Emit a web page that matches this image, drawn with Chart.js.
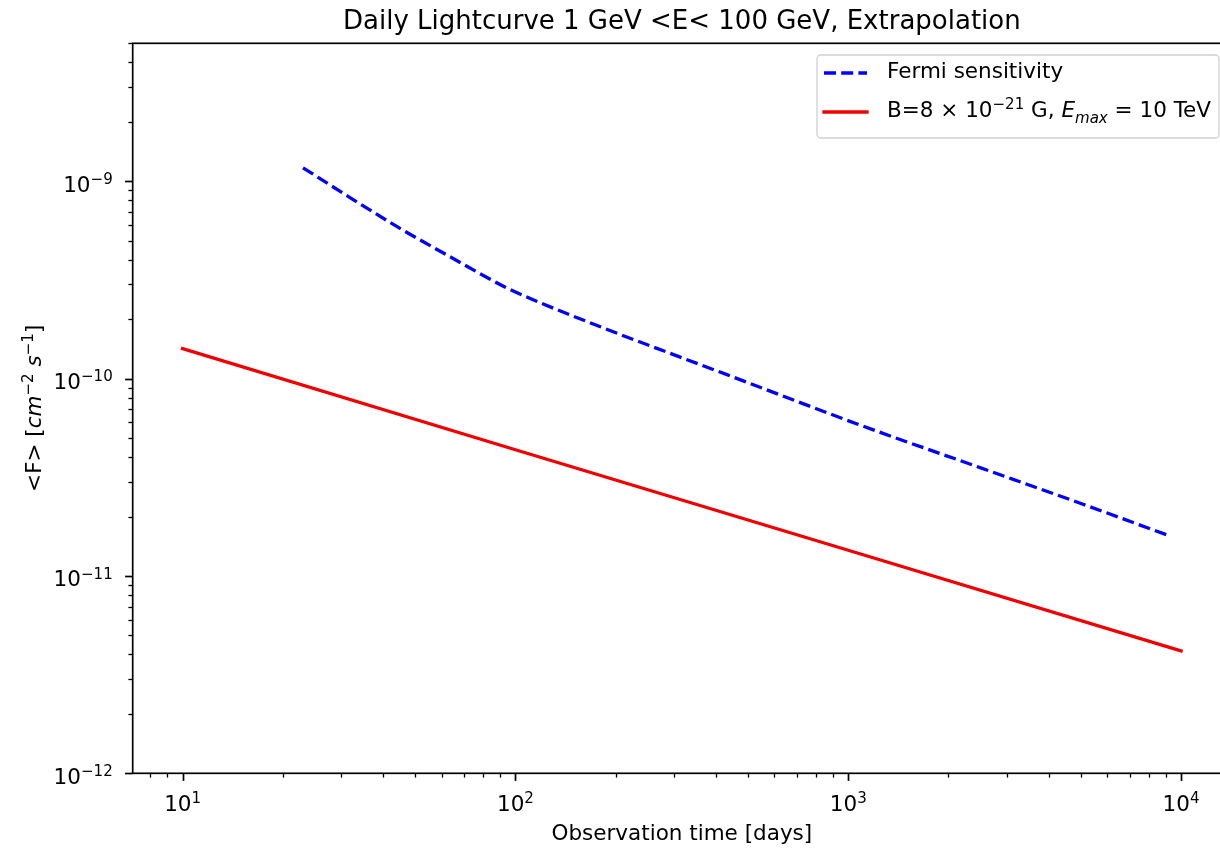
<!DOCTYPE html>
<html><head><meta charset="utf-8">
<script src="https://cdn.jsdelivr.net/npm/chart.js@4/dist/chart.umd.min.js"></script>
<style>
html,body{margin:0;padding:0;background:#fff;overflow:hidden}
#wrap{width:1220px;height:850px;overflow:hidden;position:relative;background:#fff}
canvas{display:block}
</style></head><body>
<div id="wrap"><canvas id="c" width="1245" height="850"></canvas></div>
<script>
// ---- data ----
const titleText = 'Daily Lightcurve 1 GeV <E< 100 GeV, Extrapolation';
const xAxisLabel = 'Observation time [days]';
const fermiDays = [23, 32, 45, 64, 92, 113, 180, 430, 1090, 2500, 5000, 9100];
const fermiFlux = [1.17e-9, 8.22e-10, 5.77e-10, 4.12e-10, 2.94e-10, 2.51e-10, 1.83e-10, 1.05e-10, 5.8e-11, 3.53e-11, 2.33e-11, 1.61e-11];
const modelDays = [10, 100, 1000, 10000];
const modelFlux = [1.42e-10, 4.36e-11, 1.35e-11, 4.17e-12];
const xTicks = [10, 100, 1000, 10000];
const xTickExps = ['1', '2', '3', '4'];
const yTicks = [1e-12, 1e-11, 1e-10, 1e-9];
const yTickExps = ['−12', '−11', '−10', '−9'];
const tickBase = '10';
const xRange = [7.08, 14125];
const yRange = [1e-12, 5e-9];
const legendFermi = [{t: 'Fermi sensitivity'}];
const legendModel = [{t: 'B=8 × 10'}, {t: '−21', sup: true}, {t: ' G, '}, {t: 'E', it: true}, {t: 'max', it: true, sub: true}, {t: ' = 10 TeV'}];
const yAxisLabel = [{t: '<F> ['}, {t: 'cm', it: true}, {t: '−2', sup: true}, {t: ' '}, {t: 's', it: true}, {t: '−1', sup: true}, {t: ']'}];

const FAM = '"DejaVu Sans", sans-serif';
const BASE = 21.5;

function segFont(s, base) {
  const size = (s.sup || s.sub) ? base * 0.7 : base;
  return (s.it ? 'italic ' : '') + size + 'px ' + FAM;
}
function segsWidth(ctx, segs, base) {
  let w = 0;
  for (const s of segs) { ctx.font = segFont(s, base); w += ctx.measureText(s.t).width; }
  return w;
}
function drawSegs(ctx, segs, x, y, base) {
  let cx = x;
  ctx.textBaseline = 'alphabetic';
  ctx.textAlign = 'left';
  for (const s of segs) {
    ctx.font = segFont(s, base);
    let dy = 0;
    if (s.sup) dy = -0.355 * base;
    if (s.sub) dy = 0.3 * base;
    ctx.fillText(s.t, cx, y + dy);
    cx += ctx.measureText(s.t).width;
  }
}

const decor = {
  id: 'decor',
  afterDraw(chart) {
    const ctx = chart.ctx, ca = chart.chartArea;
    const xs = chart.scales.x, ys = chart.scales.y;
    ctx.save();
    ctx.strokeStyle = '#000';
    // tick marks
    function tickMarks(isX) {
      const sc = isX ? xs : ys;
      const lo = isX ? xRange[0] : yRange[0], hi = isX ? xRange[1] : yRange[1];
      const d0 = Math.floor(Math.log10(lo)), d1 = Math.ceil(Math.log10(hi));
      for (let d = d0; d <= d1; d++) {
        for (let k = 1; k <= 9; k++) {
          const v = k * Math.pow(10, d);
          if (v < lo * 0.9999 || v > hi * 1.0001) continue;
          const major = k === 1;
          const len = major ? 7.6 : 4.3;
          ctx.lineWidth = major ? 1.7 : 1.3;
          const p = Math.round(sc.getPixelForValue(v)) + 0.5;
          ctx.beginPath();
          if (isX) { ctx.moveTo(p, ca.bottom); ctx.lineTo(p, ca.bottom + len); }
          else { ctx.moveTo(ca.left, p); ctx.lineTo(ca.left - len, p); }
          ctx.stroke();
        }
      }
    }
    tickMarks(true); tickMarks(false);
    // tick labels
    ctx.fillStyle = '#000';
    xTicks.forEach((v, i) => {
      const segs = [{t: tickBase}, {t: xTickExps[i], sup: true}];
      const w = segsWidth(ctx, segs, BASE);
      drawSegs(ctx, segs, xs.getPixelForValue(v) - w / 2, ca.bottom + 37.7, BASE);
    });
    yTicks.forEach((v, i) => {
      const segs = [{t: tickBase}, {t: yTickExps[i], sup: true}];
      const w = segsWidth(ctx, segs, BASE);
      drawSegs(ctx, segs, ca.left - 20 - w, ys.getPixelForValue(v) + 10.3, BASE);
    });
    // frame
    ctx.lineWidth = 1.7;
    ctx.strokeRect(ca.left, ca.top, ca.right - ca.left, ca.bottom - ca.top);
    // y axis label
    const yw = segsWidth(ctx, yAxisLabel, BASE);
    ctx.save();
    ctx.translate(41, (ca.top + ca.bottom) / 2);
    ctx.rotate(-Math.PI / 2);
    drawSegs(ctx, yAxisLabel, -yw / 2, 0, BASE);
    ctx.restore();
    // legend
    const lx0 = ca.right - 414, ly0 = 55, lw = 402, lh = 83;
    ctx.beginPath();
    ctx.roundRect(lx0, ly0, lw, lh, 4);
    ctx.fillStyle = 'rgba(255,255,255,0.8)';
    ctx.fill();
    ctx.lineWidth = 1.3;
    ctx.strokeStyle = '#d0d0d0';
    ctx.stroke();
    const ds = chart.data.datasets;
    [[ds[0], 73], [ds[1], 112]].forEach(([d, y]) => {
      ctx.beginPath();
      ctx.strokeStyle = d.borderColor;
      ctx.lineWidth = d.borderWidth;
      ctx.setLineDash(d.borderDash || []);
      ctx.lineCap = d.borderDash ? 'butt' : 'square';
      ctx.moveTo(lx0 + 7, y); ctx.lineTo(lx0 + 50, y);
      ctx.stroke();
    });
    ctx.setLineDash([]);
    ctx.fillStyle = '#000';
    drawSegs(ctx, legendFermi, lx0 + 70, 78, BASE);
    drawSegs(ctx, legendModel, lx0 + 70, 116.5, BASE);
    ctx.restore();
  }
};

new Chart(document.getElementById('c'), {
  type: 'line',
  data: {
    datasets: [
      {
        label: 'Fermi sensitivity',
        data: fermiDays.map((x, i) => ({x, y: fermiFlux[i]})),
        borderColor: '#0000ff', borderWidth: 3.3, borderDash: [12, 5.2], borderCapStyle: 'butt',
        pointRadius: 0, fill: false, cubicInterpolationMode: 'monotone'
      },
      {
        label: 'B=8 × 10⁻²¹ G, E_max = 10 TeV',
        data: modelDays.map((x, i) => ({x, y: modelFlux[i]})),
        borderColor: '#f00000', borderWidth: 3.3, borderCapStyle: 'square',
        pointRadius: 0, fill: false, tension: 0
      }
    ]
  },
  options: {
    responsive: false, animation: false, devicePixelRatio: 1,
    layout: {padding: {left: 0, right: 14, top: 0, bottom: 0}},
    plugins: {
      legend: {display: false}, tooltip: {enabled: false},
      title: {display: true, fullSize: false, text: titleText, color: '#000',
        font: {family: FAM, size: 26, weight: 'normal'}, padding: {top: 7, bottom: 5.1}}
    },
    scales: {
      x: {
        type: 'logarithmic', min: xRange[0], max: xRange[1],
        grid: {display: false, drawTicks: false}, border: {display: false},
        afterBuildTicks: s => { s.ticks = xTicks.map(v => ({value: v})); },
        afterFit: s => { s.height = 76.7; },
        ticks: {display: false},
        title: {display: true, text: xAxisLabel, color: '#000', font: {family: FAM, size: BASE}, padding: {top: 0, bottom: 3}}
      },
      y: {
        type: 'logarithmic', min: yRange[0], max: yRange[1],
        grid: {display: false, drawTicks: false}, border: {display: false},
        afterBuildTicks: s => { s.ticks = yTicks.map(v => ({value: v})); },
        afterFit: s => { s.width = 132.7; },
        ticks: {display: false}
      }
    }
  },
  plugins: [decor]
});
</script>
</body></html>
